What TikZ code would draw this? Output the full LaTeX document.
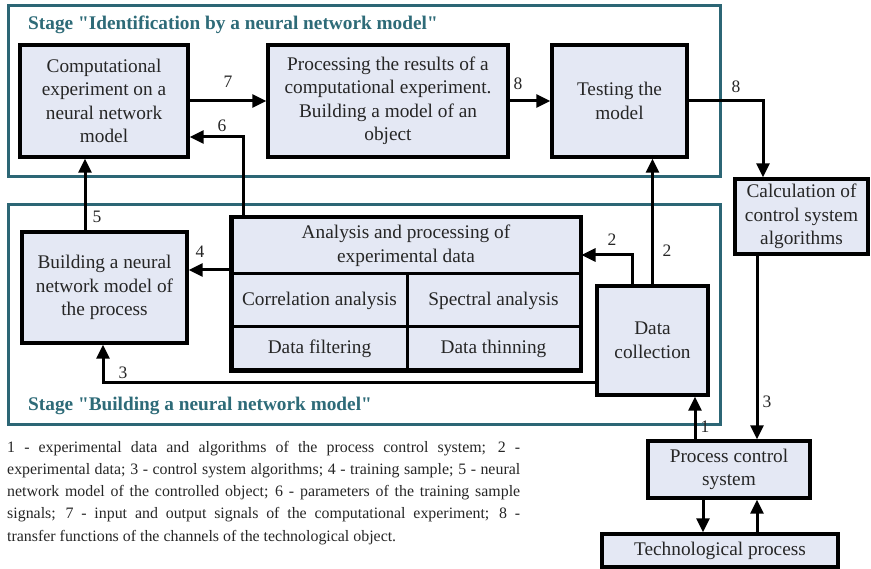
\documentclass[tikz,border=0pt]{standalone}
\usepackage{fontspec}
\setmainfont{Liberation Serif}[Ligatures=TeXOff]
\usetikzlibrary{arrows.meta}
\definecolor{boxfill}{HTML}{E4E8F4}
\definecolor{frameteal}{HTML}{2C6675}
\definecolor{titleteal}{HTML}{2E6B78}
\definecolor{textgray}{HTML}{262626}
\hbadness=10000
\hfuzz=20pt
\begin{document}
\begin{tikzpicture}[x=1pt,y=-1pt,
  blk/.style={draw=black, line width=3.4pt, fill=boxfill, align=center, inner sep=0pt,
    text=textgray, font=\fontsize{19.3}{23.5}\selectfont},
  cell/.style={draw=black, line width=3pt, fill=boxfill, align=center, inner sep=0pt,
    text=textgray, font=\fontsize{19.3}{23.5}\selectfont},
  arr/.style={line width=3pt, -{Triangle[length=14pt,width=13pt]}},
  lbl/.style={font=\fontsize{17.5}{20}\selectfont, text=textgray, inner sep=0pt},
  stageframe/.style={draw=frameteal, line width=3pt},
  stagetitle/.style={font=\fontsize{19.3}{22}\selectfont\bfseries, text=titleteal, inner sep=0pt, anchor=base west}
]
\useasboundingbox (0,0) rectangle (871,569);
\fill[white] (0,0) rectangle (871,569);

% stage frames
\draw[stageframe] (8,6) rectangle (720,177);
\draw[stageframe] (8,205) rectangle (720,425);
\node[stagetitle] (t1) at (28,30) {Stage "Identification by a neural network model"};
\node[stagetitle] (t2) at (28,411) {Stage "Building a neural network model"};

% boxes
\node[blk, minimum width=168pt, minimum height=112pt] (comp) at (104,101)
  {Computational\\experiment on a\\neural network\\model};
\node[blk, minimum width=240pt, minimum height=112pt] (proc) at (388,101)
  {Processing the results of a\\computational experiment.\\Building a model of an\\object};
\node[blk, minimum width=135pt, minimum height=112pt] (test) at (619.5,101)
  {Testing the\\model};
\node[blk, minimum width=133pt, minimum height=75pt] (calc) at (801.5,216.5)
  {Calculation of\\control system\\algorithms};
\node[blk, minimum width=165pt, minimum height=111pt] (build) at (104.5,287.5)
  {Building a neural\\network model of\\the process};
\node[cell, minimum width=348pt, minimum height=56pt] (hdr) at (406,246)
  {Analysis and processing of\\experimental data};
\node[cell, minimum width=175pt, minimum height=53pt] (corr) at (319.5,300.5) {Correlation analysis};
\node[cell, minimum width=173pt, minimum height=53pt] (spec) at (493.5,300.5) {Spectral analysis};
\node[cell, minimum width=175pt, minimum height=43pt] (filt) at (319.5,348.5) {Data filtering};
\node[cell, minimum width=173pt, minimum height=43pt] (thin) at (493.5,348.5) {Data thinning};
\draw[line width=3.4pt] (hdr.north west) rectangle (thin.south east);
\node[blk, minimum width=111pt, minimum height=109pt] (dc) at (652.5,340.5)
  {Data\\collection};
\node[blk, minimum width=162pt, minimum height=57pt] (pcs) at (729,469.5)
  {Process control\\system};
\node[blk, minimum width=236pt, minimum height=33pt] (tp) at (720,550.5)
  {Technological process};

% connectors
\draw[arr] (comp.east) -- (proc.west);
\draw[arr] (proc.east) -- (test.west);
\draw[arr] ([xshift=13pt]hdr.north west) |- ([yshift=-36pt]comp.east);
\draw[arr] (test.east) -| ([xshift=-38.5pt]calc.north);
\draw[arr] ([xshift=-19.5pt]build.north) -- ([xshift=-19.5pt]build.north |- comp.south);
\draw[arr] ([yshift=-24pt]hdr.west) -- ([yshift=-24pt]hdr.west -| build.east);
\draw[arr] ([yshift=-42.5pt]dc.west) -| ([xshift=-1.5pt]build.south);
\draw[arr] ([xshift=-20.5pt]dc.north) |- ([yshift=-9pt]hdr.east);
\draw[arr] (dc.north) -- (dc.north |- test.south);
\draw[arr] ([xshift=-34pt]pcs.north) -- ([xshift=-34pt]pcs.north |- dc.south);
\draw[arr] ([xshift=-44.5pt]calc.south) -- ([xshift=-44.5pt]calc.south |- pcs.north);
\draw[arr] ([xshift=-26pt]pcs.south) -- ([xshift=-26pt]pcs.south |- tp.north);
\draw[arr] ([xshift=28pt]pcs.south |- tp.north) -- ([xshift=28pt]pcs.south);

% labels
\node[lbl] (l7) at (228,82) {7};
\node[lbl] (l6) at (222,126) {6};
\node[lbl] (l8a) at (518,84) {8};
\node[lbl] (l8b) at (736,87) {8};
\node[lbl] (l5) at (97,217) {5};
\node[lbl] (l4) at (200,252) {4};
\node[lbl] (l3a) at (123,373) {3};
\node[lbl] (l2a) at (612,240) {2};
\node[lbl] (l2b) at (667,251) {2};
\node[lbl] (l3b) at (767,402) {3};
\node[lbl] (l1) at (705,427) {1};

% legend
\node[anchor=north west, text width=513pt, align=justify, inner sep=0pt, text=textgray,
  font=\fontsize{15.9}{22.2}\selectfont] (legend) at (7,441)
  {1 - experimental data and algorithms of the process control system; 2 -\linebreak experimental data; 3 - control system algorithms; 4 - training sample; 5 - neural\linebreak network model of the controlled object; 6 - parameters of the training sample\linebreak signals; 7 - input and output signals of the computational experiment; 8 -\linebreak transfer functions of the channels of the technological object.};
\end{tikzpicture}
\end{document}
